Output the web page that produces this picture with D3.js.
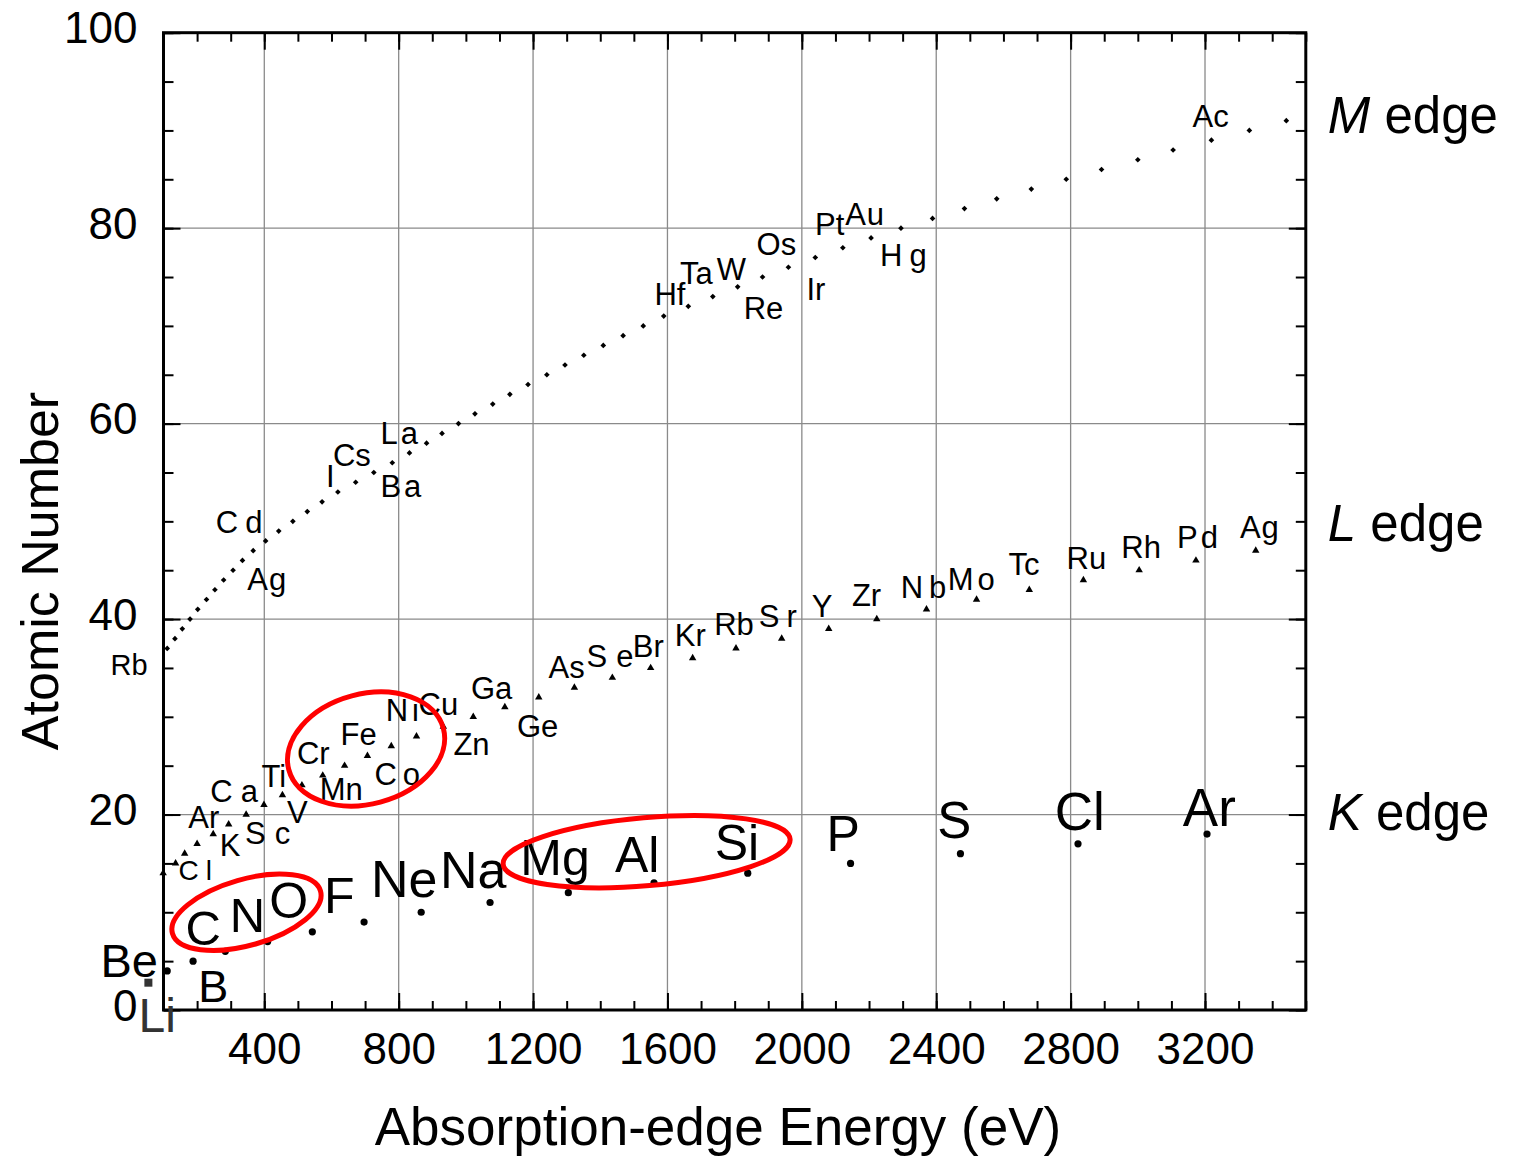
<!DOCTYPE html>
<html>
<head>
<meta charset="utf-8">
<script src="https://cdn.jsdelivr.net/npm/d3@7"></script>
<style>
  body { margin: 0; background: #fff; }
  text { font-family: "Liberation Sans", Arial, Helvetica, sans-serif; }
</style>
</head>
<body>
<div id="chart"></div>
<script>
// K absorption edges (eV) vs atomic number
const kSymbols = ["Li", "Be", "B", "C", "N", "O", "F", "Ne", "Na", "Mg", "Al", "Si", "P", "S", "Cl", "Ar"];
const kZ = [3, 4, 5, 6, 7, 8, 9, 10, 11, 12, 13, 14, 15, 16, 17, 18];
const kEnergy = [55, 111, 188, 284, 410, 543, 697, 867, 1072, 1305, 1560, 1839, 2145, 2472, 2822, 3206];

// L edges
const lSymbols = ["Si", "P", "S", "Cl", "Ar", "K", "Ca", "Sc", "Ti", "V", "Cr", "Mn", "Fe", "Co", "Ni", "Cu", "Zn",
    "Ga", "Ge", "As", "Se", "Br", "Kr", "Rb", "Sr", "Y", "Zr", "Nb", "Mo", "Tc", "Ru", "Rh", "Pd", "Ag"];
const lZ = [14, 15, 16, 17, 18, 19, 20, 21, 22, 23, 24, 25, 26, 27, 28, 29, 30,
    31, 32, 33, 34, 35, 36, 37, 38, 39, 40, 41, 42, 43, 44, 45, 46, 47];
const lEnergy = [99, 136, 163, 200, 248, 294, 346, 399, 454, 512, 574, 639, 707, 778, 853, 933, 1022,
    1116, 1217, 1323, 1436, 1550, 1675, 1804, 1940, 2080, 2223, 2371, 2520, 2677, 2838, 3004, 3173, 3351];

// M edges
const mSymbols = ["Rb", "Sr", "Y", "Zr", "Nb", "Mo", "Tc", "Ru", "Rh", "Pd", "Ag", "Cd", "In", "Sn", "Sb", "Te", "I", "Xe",
    "Cs", "Ba", "La", "Ce", "Pr", "Nd", "Pm", "Sm", "Eu", "Gd", "Tb", "Dy", "Ho", "Er", "Tm", "Yb", "Lu", "Hf",
    "Ta", "W", "Re", "Os", "Ir", "Pt", "Au", "Hg", "Tl", "Pb", "Bi", "Po", "At", "Rn", "Fr", "Ra", "Ac", "Th", "Pa"];
const mZ = [37, 38, 39, 40, 41, 42, 43, 44, 45, 46, 47, 48, 49, 50, 51, 52, 53, 54,
    55, 56, 57, 58, 59, 60, 61, 62, 63, 64, 65, 66, 67, 68, 69, 70, 71, 72,
    73, 74, 75, 76, 77, 78, 79, 80, 81, 82, 83, 84, 85, 86, 87, 88, 89, 90, 91];
const mEnergy = [111, 134, 156, 179, 202, 228, 253, 279, 307, 335, 367, 404, 443, 485, 528, 572, 619, 672,
    726, 781, 832, 883, 929, 978, 1027, 1080, 1131, 1185, 1241, 1295, 1351, 1409, 1468, 1528, 1589, 1662,
    1735, 1809, 1883, 1960, 2040, 2122, 2206, 2295, 2389, 2484, 2580, 2683, 2787, 2892, 3000, 3105, 3219, 3332, 3442];

// axis ticks
const xTickValues = [400, 800, 1200, 1600, 2000, 2400, 2800, 3200];
const yTickValues = [0, 20, 40, 60, 80, 100];
const edgeNames = ["M", "L", "K"];
const edgeZ = [91.6, 49.8, 20.3];

// label placement: [dx, dy, letter-spacing, font-size] relative to the point (px)
const kLayout = {
    Li: [-7, 51, 0, 48], Be: [-64, 6, 0, 47], B: [8, 41, 0, 45], C: [-37, -6, 0, 49], N: [-35, -10, 0, 49],
    O: [-40, -14, 0, 50], F: [-37, -9, 0, 50], Ne: [-47, -15, 0, 52], Na: [-47, -14, 0, 52], Mg: [-45, -18, 0, 50],
    Al: [-36, -11, 0, 50], Si: [-30, -13, 0, 50], P: [-21, -12, 0, 50], S: [-20, -16, 0, 51], Cl: [-20, -14, 0, 53],
    Ar: [-21, -8, 0, 53]
};
const lLayout = {
    Cl: [-17, 36, 7, 28], Ar: [-23, -6, 0], K: [-7, 32, 0], Ca: [-34, -13, 8], Sc: [-17, 39, 9], Ti: [-19, -8, 0],
    V: [-13, 38, 0], Cr: [-24, -11, 0], Mn: [-23, 34, 0], Fe: [-25, -11, 0], Co: [-15, 39, 6], Ni: [-29, -15, 4],
    Cu: [-23, -12, 0], Zn: [-18, 38, 0], Ga: [-32, -8, 0], Ge: [-20, 40, 0], As: [-24, -9, 0], Se: [-24, -11, 9],
    Br: [-16, -11, 0], Kr: [-16, -12, 0], Rb: [-20, -13, 0], Sr: [-21, -12, 7], Y: [-15, -12, 0], Zr: [-23, -13, 0],
    Nb: [-24, -11, 6], Mo: [-27, -10, 4], Tc: [-19, -15, 0], Ru: [-15, -11, 0], Rh: [-16, -12, 0], Pd: [-17, -12, 3],
    Ag: [-14, -13, 1]
};
const mLayout = {
    Rb: [-55, 27, 0, 29], Ag: [-4, 39, 1], Cd: [-48, -8, 7], I: [-10, -5, 0], Cs: [-39, -6, 0], Ba: [-10, 34, 3],
    La: [-27, -9, 3], Hf: [-32, -1, 0], Ta: [-31, -13, 0], W: [-19, -7, 0], Re: [-17, 42, 0], Os: [-30, -12, 0],
    Ir: [-7, 43, 0], Pt: [-26, -13, 0], Au: [-24, -13, 1], Hg: [-19, 38, 7], Ac: [-17, -13, 0]
};

// red ellipses: centre in data units, radii in px, angle in degrees
const ellipses = [
    { e: 347, z: 10.0, rx: 77, ry: 33, angle: -16 },
    { e: 1538, z: 16.2, rx: 144, ry: 34, angle: -5 },
    { e: 703, z: 26.7, rx: 80, ry: 55, angle: -15 }
];

const W = 1513, H = 1156;
const plot = { left: 163.5, right: 1305.8, top: 32.7, bottom: 1010 };

const svg = d3.select("#chart").append("svg")
    .attr("width", W).attr("height", H);

const x = d3.scaleLinear().domain([100, 3500]).range([plot.left, plot.right]);
const y = d3.scaleLinear().domain([0, 100]).range([plot.bottom, plot.top]);

// gridlines
const grid = svg.append("g").attr("stroke", "#8a8a8a").attr("stroke-width", 1.3);
grid.selectAll("line.gx").data(xTickValues).join("line")
    .attr("x1", d => x(d)).attr("x2", d => x(d))
    .attr("y1", plot.top).attr("y2", plot.bottom);
grid.selectAll("line.gy").data(yTickValues.slice(1, -1)).join("line")
    .attr("x1", plot.left).attr("x2", plot.right)
    .attr("y1", d => y(d)).attr("y2", d => y(d));

// ticks on all four sides, pointing inward
const minorX = d3.range(100, 3501, 100);
const minorY = d3.range(0, 101, 5);
function tickAxis(axis, transform) {
    const g = svg.append("g").attr("transform", transform).call(axis);
    g.select(".domain").remove();
    g.selectAll(".tick line").attr("stroke", "#000").attr("stroke-width", 2);
    return g;
}
tickAxis(d3.axisBottom(x).tickValues(minorX).tickSize(-9).tickFormat(""), `translate(0,${plot.bottom})`);
tickAxis(d3.axisTop(x).tickValues(minorX).tickSize(-9).tickFormat(""), `translate(0,${plot.top})`);
tickAxis(d3.axisLeft(y).tickValues(minorY).tickSize(-10).tickFormat(""), `translate(${plot.left},0)`);
tickAxis(d3.axisRight(y).tickValues(minorY).tickSize(-10).tickFormat(""), `translate(${plot.right},0)`);
tickAxis(d3.axisTop(x).tickValues(xTickValues).tickSize(-17).tickFormat(""), `translate(0,${plot.top})`);
tickAxis(d3.axisRight(y).tickValues(yTickValues).tickSize(-17).tickFormat(""), `translate(${plot.right},0)`);

const xAxis = tickAxis(d3.axisBottom(x).tickValues(xTickValues).tickSize(-17).tickFormat(d3.format("d")),
    `translate(0,${plot.bottom})`);
xAxis.selectAll("text").attr("y", 54).attr("dy", 0)
    .attr("font-size", 44).attr("fill", "#000").attr("font-family", null);

const yAxis = tickAxis(d3.axisLeft(y).tickValues(yTickValues).tickSize(-17).tickFormat(d3.format("d")),
    `translate(${plot.left},0)`);
yAxis.selectAll("text").attr("x", -26).attr("dy", 0).attr("y", 10)
    .attr("font-size", 44).attr("fill", "#000").attr("font-family", null);

// frame
svg.append("rect")
    .attr("x", plot.left).attr("y", plot.top)
    .attr("width", plot.right - plot.left).attr("height", plot.bottom - plot.top)
    .attr("fill", "none").attr("stroke", "#000").attr("stroke-width", 3);

// points
const kData = kSymbols.map((s, i) => ({ s, z: kZ[i], e: kEnergy[i] }));
const lData = lSymbols.map((s, i) => ({ s, z: lZ[i], e: lEnergy[i] }));
const mData = mSymbols.map((s, i) => ({ s, z: mZ[i], e: mEnergy[i] }));

svg.append("g").selectAll("circle").data(kData.filter(d => d.s !== "Li")).join("circle")
    .attr("cx", d => x(d.e)).attr("cy", d => y(d.z)).attr("r", 3.6).attr("fill", "#000");
svg.append("g").selectAll("rect").data(kData.filter(d => d.s === "Li")).join("rect")
    .attr("x", d => x(d.e) - 4).attr("y", d => y(d.z) - 2).attr("width", 8).attr("height", 8)
    .attr("fill", "#333");

svg.append("g").selectAll("path").data(lData).join("path")
    .attr("d", d3.symbol(d3.symbolTriangle, 24))
    .attr("transform", d => `translate(${x(d.e)},${y(d.z)})`)
    .attr("fill", "#000");

svg.append("g").selectAll("path").data(mData).join("path")
    .attr("d", d3.symbol(d3.symbolSquare, 16))
    .attr("transform", d => `translate(${x(d.e)},${y(d.z)}) rotate(45)`)
    .attr("fill", "#000");

// element labels
function drawLabels(data, layout, defaultSize) {
    const items = data.filter(d => layout[d.s]).map(d => {
        const [dx, dy, ls, fs] = layout[d.s];
        const size = fs || defaultSize;
        return { s: d.s, x: x(d.e) + dx - 0.06 * size, y: y(d.z) + dy, ls: ls || 0, size };
    });
    svg.append("g").selectAll("text").data(items).join("text")
        .attr("x", d => d.x).attr("y", d => d.y)
        .attr("font-size", d => d.size)
        .attr("letter-spacing", d => d.ls)
        .attr("fill", d => (d.s === "Li" && d.size === 48 ? "#333" : "#000"))
        .text(d => d.s);
}
drawLabels(kData, kLayout, 50);
drawLabels(lData, lLayout, 31);
drawLabels(mData, mLayout, 31);

// edge names at the right
const edges = svg.append("g").attr("font-size", 51).attr("fill", "#000");
edgeNames.forEach((name, i) => {
    const t = edges.append("text").attr("x", plot.right + 22).attr("y", y(edgeZ[i]) + 18);
    t.append("tspan").attr("font-style", "italic").text(name);
    t.append("tspan").text(" edge");
});

// axis titles
svg.append("text")
    .attr("transform", `translate(58,571) rotate(-90)`)
    .attr("text-anchor", "middle").attr("font-size", 52)
    .text("Atomic Number");
svg.append("text")
    .attr("x", 718).attr("y", 1145)
    .attr("text-anchor", "middle").attr("font-size", 53)
    .text("Absorption-edge Energy (eV)");

// red highlight ellipses
svg.append("g").selectAll("ellipse").data(ellipses).join("ellipse")
    .attr("transform", d => `translate(${x(d.e)},${y(d.z)}) rotate(${d.angle})`)
    .attr("rx", d => d.rx).attr("ry", d => d.ry)
    .attr("fill", "none").attr("stroke", "#f00").attr("stroke-width", 5);
</script>
</body>
</html>
